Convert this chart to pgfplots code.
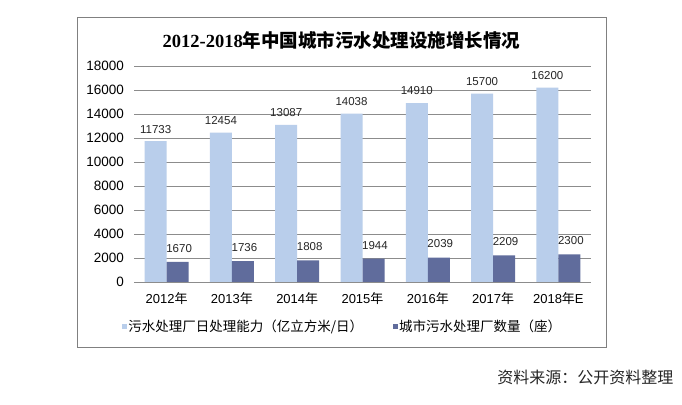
\documentclass[border=0pt]{standalone}
\usepackage{fontspec}
\setmainfont{Liberation Sans}
\newfontfamily\cjk{Noto Sans CJK SC}
\newfontfamily\titlelatin{Liberation Serif}
\usepackage{pgfplots}
\pgfplotsset{compat=1.18}
\definecolor{lightbar}{RGB}{185,206,235}
\definecolor{darkbar}{RGB}{96,108,156}
\definecolor{gridc}{RGB}{140,140,140}
\definecolor{framec}{RGB}{128,128,128}
\begin{document}
\begin{tikzpicture}
\path[use as bounding box] (0,0) rectangle (682bp,405bp);
\fill[white] (0,0) rectangle (682bp,405bp);
\draw[framec, line width=0.8bp] (77bp,58bp) rectangle (606bp,388bp);
\node[font=\fontsize{18.5bp}{22bp}\selectfont\bfseries] at (341.5bp,365bp) {{\titlelatin 2012-2018}{\cjk 年中国城市污水处理设施增长情况}};
\begin{axis}[
  at={(134bp,123bp)}, anchor=south west,
  scale only axis, width=457bp, height=216bp,
  xmin=-0.5, xmax=6.5, ymin=0, ymax=18000,
  ytick={0,2000,...,18000},
  scaled y ticks=false,
  xtick={0,...,6},
  xticklabels={{2012{\cjk 年}},{2013{\cjk 年}},{2014{\cjk 年}},{2015{\cjk 年}},{2016{\cjk 年}},{2017{\cjk 年}},{2018{\cjk 年}E}},
  minor xtick={-0.5,0.5,...,6.5},
  major tick length=0pt, minor tick length=4bp,
  tick align=outside,
  xtick style={draw=none},
  minor tick style={gridc, line width=0.7bp},
  ytick style={draw=none},
  axis x line*=bottom, axis y line*=left,
  x axis line style={gridc, line width=0.8bp, -},
  y axis line style={draw=none},
  ymajorgrids, grid style={gridc, line width=0.7bp},
  /pgf/number format/1000 sep={},
  /pgf/number format/assume math mode=true,
  yticklabel style={font=\fontsize{13.5bp}{16bp}\selectfont, anchor=east, inner sep=0pt, xshift=-10bp, /pgf/number format/fixed},
  xticklabel style={font=\fontsize{13bp}{16bp}\selectfont, anchor=center, inner sep=0pt, yshift=-17bp},
  ybar=0pt, bar width=22bp,
  nodes near coords,
  legend columns=2,
  legend style={at={(-0.027,-0.208)}, anchor=west, draw=none, fill=none, inner sep=0pt,
    font=\fontsize{13.5bp}{16bp}\selectfont,
    nodes={inner xsep=1.5bp, inner ysep=0pt},
    /tikz/every even column/.append style={column sep=28bp}},
  legend image code/.code={\fill[#1] (0bp,-2.5bp) rectangle (5bp,2.5bp);},
]
\addplot[fill=lightbar, draw=none,
  nodes near coords style={font=\fontsize{11.5bp}{13bp}\selectfont, text=black!85, anchor=south, yshift=4.5bp}]
  coordinates {(0,11733) (1,12454) (2,13087) (3,14038) (4,14910) (5,15700) (6,16200)};
\addlegendentry{\cjk 污水处理厂日处理能力（亿立方米/日）}
\addplot[fill=darkbar, draw=none,
  nodes near coords style={font=\fontsize{11.5bp}{13bp}\selectfont, text=black!85, anchor=south, yshift=6bp, xshift=1.5bp}]
  coordinates {(0,1670) (1,1736) (2,1808) (3,1944) (4,2039) (5,2209) (6,2300)};
\addlegendentry{\cjk 城市污水处理厂数量（座）}
\end{axis}
\node[anchor=east, font=\fontsize{16bp}{19bp}\selectfont, text=black!85] at (677bp,28bp) {\cjk 资料来源：公开资料整理};
\end{tikzpicture}
\end{document}
